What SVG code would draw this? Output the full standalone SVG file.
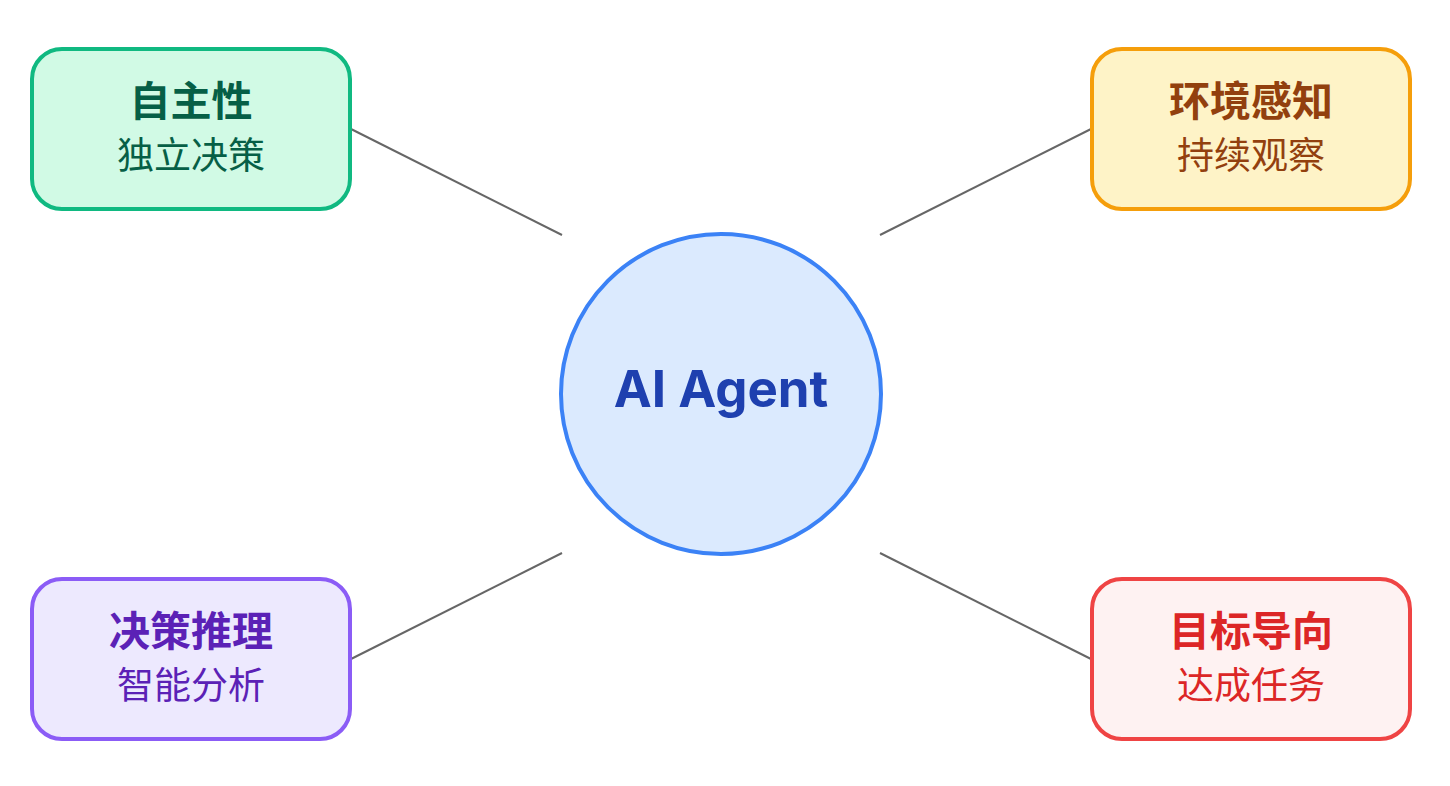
<svg xmlns="http://www.w3.org/2000/svg" width="1450" height="786" viewBox="0 0 1450 786">
<style>
.box{stroke-width:4}
.t{font-family:"Noto Sans CJK SC","Noto Sans",sans-serif;text-anchor:middle;font-size:41px;font-weight:700}
.s{font-family:"Noto Sans CJK SC","Noto Sans",sans-serif;text-anchor:middle;font-size:37px;font-weight:400}
.c{stroke:#666;stroke-width:2;fill:none}
</style>
<rect width="1450" height="786" fill="#fff"/>
<g id="connectors">
<line class="c" x1="351" y1="129" x2="562" y2="235"/>
<line class="c" x1="1091" y1="129" x2="880" y2="235"/>
<line class="c" x1="351" y1="659" x2="562" y2="553"/>
<line class="c" x1="1091" y1="659" x2="880" y2="553"/>
</g>
<g id="center">
<circle cx="721" cy="394" r="160" fill="#DBEAFE" stroke="#3B82F6" stroke-width="4"/>
<text x="721" y="407" text-anchor="middle" font-family="Inter,'Noto Sans',sans-serif" font-weight="700" font-size="51" fill="#1E40AF">AI Agent</text>
</g>
<g id="autonomy">
<rect class="box" x="32" y="49" width="318" height="160" rx="30" fill="#D1FAE5" stroke="#10B981"/>
<text class="t" x="191" y="116" fill="#065F46">自主性</text>
<text class="s" x="191" y="169" fill="#065F46">独立决策</text>
</g>
<g id="perception">
<rect class="box" x="1092" y="49" width="318" height="160" rx="30" fill="#FEF3C7" stroke="#F59E0B"/>
<text class="t" x="1251" y="116" fill="#92400E">环境感知</text>
<text class="s" x="1251" y="169" fill="#92400E">持续观察</text>
</g>
<g id="reasoning">
<rect class="box" x="32" y="579" width="318" height="160" rx="30" fill="#EDE9FE" stroke="#8B5CF6"/>
<text class="t" x="191" y="646" fill="#5B21B6">决策推理</text>
<text class="s" x="191" y="699" fill="#5B21B6">智能分析</text>
</g>
<g id="goal">
<rect class="box" x="1092" y="579" width="318" height="160" rx="30" fill="#FEF2F2" stroke="#EF4444"/>
<text class="t" x="1251" y="646" fill="#DC2626">目标导向</text>
<text class="s" x="1251" y="699" fill="#DC2626">达成任务</text>
</g>
</svg>
